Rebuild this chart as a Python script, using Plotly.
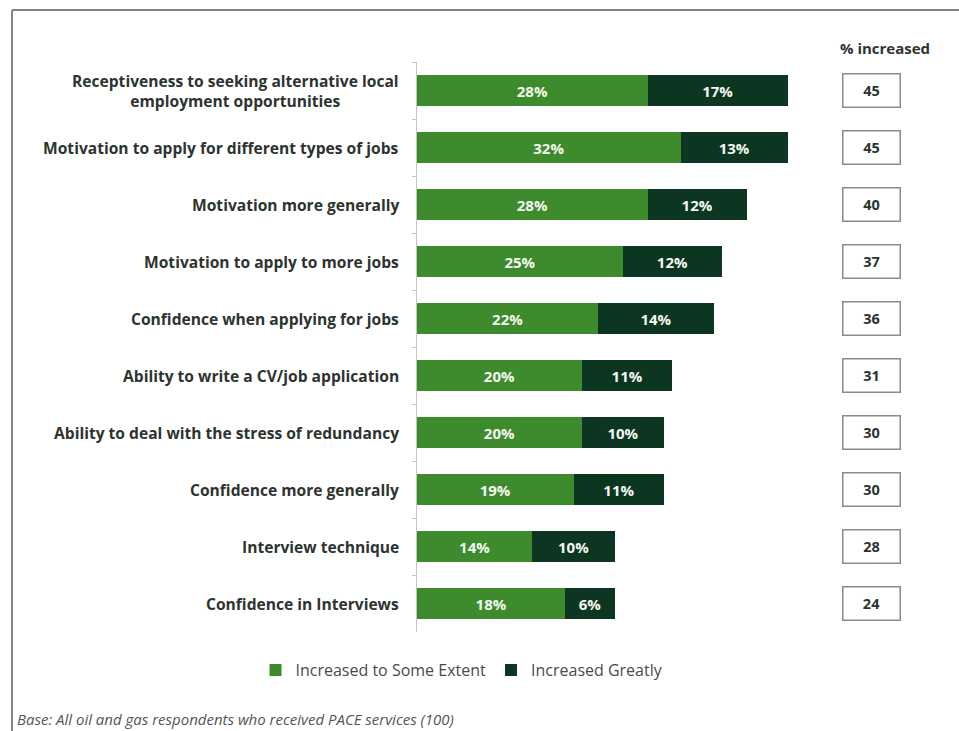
import plotly.graph_objects as go

# Survey outcomes (top to bottom)
categories = [
    "Receptiveness to seeking alternative local<br>employment opportunities",
    "Motivation to apply for different types of jobs",
    "Motivation more generally",
    "Motivation to apply to more jobs",
    "Confidence when applying for jobs",
    "Ability to write a CV/job application",
    "Ability to deal with the stress of redundancy",
    "Confidence more generally",
    "Interview technique",
    "Confidence in Interviews",
]
some_extent = [28, 32, 28, 25, 22, 20, 20, 19, 14, 18]
greatly = [17, 13, 12, 12, 14, 11, 10, 11, 10, 6]
pct_increased = [45, 45, 40, 37, 36, 31, 30, 30, 28, 24]

GREEN = "#3d8b2d"
DARK = "#0c3621"
FONT = "Open Sans"
TEXT = "#2d3430"

W, H = 959, 731
ML, MR, MT, MB = 417, 130, 62, 99
PW, PH = W - ML - MR, H - MT - MB


def px_x(x):
    return (x - ML) / PW


def px_y(y):
    return 1 - (y - MT) / PH


ids = list(range(len(categories)))

bar_text = dict(color="#f4f8f0", size=15, family=FONT, weight="bold")

fig = go.Figure()
fig.add_trace(go.Bar(
    y=ids, x=some_extent, orientation="h", name="Increased to Some Extent",
    marker=dict(color=GREEN, line=dict(width=0)),
    texttemplate="%{x}%", textposition="inside", insidetextanchor="middle",
    textangle=0, textfont=bar_text,
))
fig.add_trace(go.Bar(
    y=ids, x=greatly, orientation="h", name="Increased Greatly",
    marker=dict(color=DARK, line=dict(width=0)),
    texttemplate="%{x}%", textposition="inside", insidetextanchor="middle",
    textangle=0, textfont=bar_text,
))

annotations = []
for i, (cat, tot) in enumerate(zip(categories, pct_increased)):
    annotations.append(dict(
        x=0, y=i, xref="paper", yref="y", text=cat, showarrow=False,
        xanchor="right", yanchor="middle", xshift=-16, align="center",
        font=dict(family=FONT, size=15.6, color=TEXT, weight="bold"),
    ))
    annotations.append(dict(
        x=px_x(871), y=i, xref="paper", yref="y", text=str(tot), showarrow=False,
        xanchor="center", yanchor="middle", width=54, height=30,
        bordercolor="#8a8a8a", borderwidth=1.5, bgcolor="white",
        font=dict(family=FONT, size=14.5, color=TEXT, weight="bold"),
    ))

annotations.append(dict(
    x=px_x(885), y=px_y(48), xref="paper", yref="paper", text="% increased",
    showarrow=False, xanchor="center", yanchor="middle",
    font=dict(family=FONT, size=15, color=TEXT, weight="bold"),
))
annotations.append(dict(
    x=px_x(15), y=px_y(719), xref="paper", yref="paper",
    text="<i>Base: All oil and gas respondents who received PACE services (100)</i>",
    showarrow=False, xanchor="left", yanchor="middle",
    font=dict(family=FONT, size=15, color="#555555"),
))

shapes = [
    dict(type="line", xref="paper", yref="paper", x0=px_x(12), x1=px_x(W + 5),
         y0=px_y(10), y1=px_y(10), line=dict(color="#858585", width=2)),
    dict(type="line", xref="paper", yref="paper", x0=px_x(12), x1=px_x(12),
         y0=px_y(10), y1=px_y(H + 5), line=dict(color="#858585", width=2)),
]

fig.update_layout(
    width=W, height=H, barmode="stack", bargap=0.44,
    paper_bgcolor="white", plot_bgcolor="white",
    margin=dict(l=ML, r=MR, t=MT, b=MB),
    font=dict(family=FONT, color="#444444"),
    xaxis=dict(range=[0, 50], visible=False, fixedrange=True),
    yaxis=dict(
        type="category", autorange="reversed", showticklabels=False,
        showline=True, linecolor="#c4c4c4", linewidth=1,
        ticks="outside", ticklen=4, tickcolor="#c4c4c4", tickson="boundaries",
        showgrid=False, zeroline=False,
    ),
    legend=dict(
        orientation="h", x=px_x(462), xanchor="center", y=px_y(670), yanchor="middle",
        font=dict(family=FONT, size=16, color="#4a4a4a"), traceorder="normal",
        itemwidth=30,
    ),
    annotations=annotations, shapes=shapes, showlegend=True,
)

fig.write_html("out.html")
